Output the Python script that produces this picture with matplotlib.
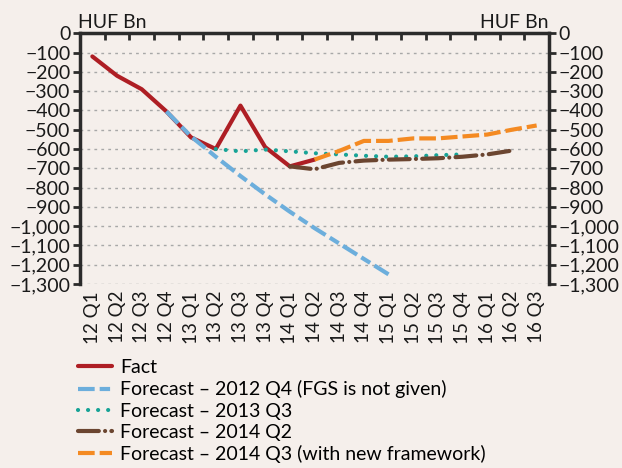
import numpy as np
import matplotlib.pyplot as plt
from matplotlib.ticker import FuncFormatter

plt.rcParams['font.family'] = ['Lato', 'DejaVu Sans']

quarters = ["12 Q1", "12 Q2", "12 Q3", "12 Q4", "13 Q1", "13 Q2", "13 Q3", "13 Q4",
            "14 Q1", "14 Q2", "14 Q3", "14 Q4", "15 Q1", "15 Q2", "15 Q3", "15 Q4",
            "16 Q1", "16 Q2", "16 Q3"]

# each series: (start index, values)
fact = [-120, -220, -290, -405, -540, -600, -375, -590, -690, -655]
fc_2012q4 = [-405, -535, -640, -740, -835, -925, -1010, -1090, -1170, -1250]
fc_2013q3 = [-600, -612, -603, -612, -622, -628, -635, -640, -638, -632, -628]
fc_2014q2 = [-690, -705, -672, -660, -655, -652, -648, -640, -628, -608]
fc_2014q3 = [-655, -610, -558, -558, -545, -545, -535, -525, -500, -478]

start_fact, start_12q4, start_13q3, start_14q2, start_14q3 = 0, 3, 5, 8, 9

labels = ["Fact", "Forecast \u2013 2012 Q4 (FGS is not given)", "Forecast \u2013 2013 Q3",
          "Forecast \u2013 2014 Q2", "Forecast \u2013 2014 Q3 (with new framework)"]

bg = "#F5EFEB"
dark = "#2B2B2B"

fig = plt.figure(figsize=(6.22, 4.68), dpi=100, facecolor=bg)
ax = fig.add_axes([80 / 622, 1 - 284 / 468, (549 - 80) / 622, (284 - 33.3) / 468])
ax.set_facecolor(bg)


def xs(start, vals):
    return np.arange(start, start + len(vals))


# grid
for v in range(-100, -1301, -100):
    ax.axhline(v, color="#A8A8A8", lw=1.0, ls=(0, (2, 3)), zorder=0)

h_fact, = ax.plot(xs(start_fact, fact), fact, color="#AE1E24", lw=3,
                  solid_capstyle="round", label=labels[0], zorder=2)
h_blue, = ax.plot(xs(start_12q4, fc_2012q4), fc_2012q4, color="#6CAEDC", lw=3,
                  ls=(0, (4, 1.2, 2.5, 1.2)), label=labels[1], zorder=3)
h_teal, = ax.plot(xs(start_13q3, fc_2013q3), fc_2013q3, color="#17A396", lw=3,
                  ls=(0, (0.01, 2.4)), dash_capstyle="round", label=labels[2], zorder=4)
h_brown, = ax.plot(xs(start_14q2, fc_2014q2), fc_2014q2, color="#6B4530", lw=3,
                   ls=(0, (5, 1.5, 0.01, 1.5)), dash_capstyle="round", label=labels[3], zorder=4)
h_orange, = ax.plot(xs(start_14q3, fc_2014q3), fc_2014q3, color="#F48A22", lw=3,
                    ls=(0, (4, 1.2)), label=labels[4], zorder=5)

ax.set_xlim(-0.5, len(quarters) - 0.5)
ax.set_ylim(-1300, 0)

ax.set_yticks(range(0, -1301, -100))
ax.yaxis.set_major_formatter(FuncFormatter(lambda v, p: f"{int(v):,}".replace("-", "\u2212")))
ax.tick_params(axis="y", left=True, right=True, labelleft=True, labelright=True,
               direction="out", length=5, width=2, color=dark, labelsize=14,
               labelcolor="#1A1A1A", pad=2)

ax.set_xticks(range(len(quarters)))
ax.set_xticklabels(quarters, rotation=90, fontsize=13.5, color="#1A1A1A")
ax.tick_params(axis="x", which="major", length=0, pad=5)
ax.set_xticks(np.arange(0.5, len(quarters) - 1), minor=True)
ax.tick_params(axis="x", which="minor", top=True, bottom=False, direction="in",
               length=5, width=2, color=dark)

ax.spines["bottom"].set_visible(False)
for s in ["top", "left", "right"]:
    ax.spines[s].set_linewidth(2.5)
    ax.spines[s].set_color(dark)

fig.text(78 / 622, 1 - 22 / 468, "HUF Bn", fontsize=14, color="#1A1A1A", va="center")
fig.text(549 / 622, 1 - 22 / 468, "HUF Bn", fontsize=14, color="#1A1A1A", va="center", ha="right")

fig.legend(handles=[h_fact, h_blue, h_teal, h_brown, h_orange], labels=labels,
           loc="upper left", bbox_to_anchor=(78 / 622, 1 - 359 / 468), frameon=False,
           fontsize=14, handlelength=1.75, handletextpad=0.4, labelspacing=0.22,
           borderaxespad=0, borderpad=0)

fig.savefig("out.png", dpi=100, facecolor=bg)
